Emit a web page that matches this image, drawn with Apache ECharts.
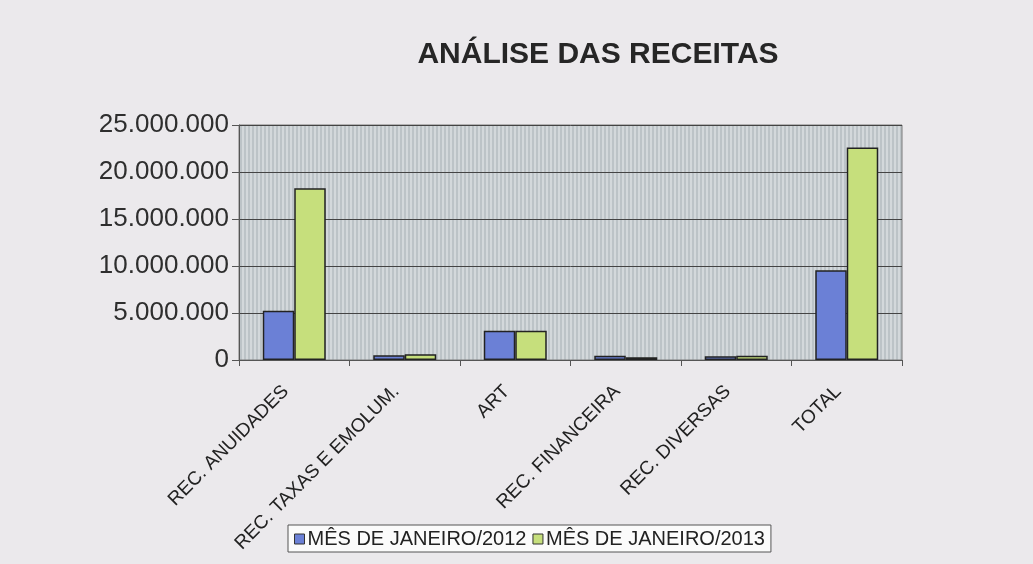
<!DOCTYPE html>
<html>
<head>
<meta charset="utf-8">
<script src="https://cdn.jsdelivr.net/npm/echarts@6/dist/echarts.min.js"></script>
<style>
  html, body { margin: 0; padding: 0; background: #ebe9ec; }
  #main { width: 1033px; height: 564px; }
</style>
</head>
<body>
<div id="main"></div>
<script>
var categorias = ['REC. ANUIDADES', 'REC. TAXAS E EMOLUM.', 'ART', 'REC. FINANCEIRA', 'REC. DIVERSAS', 'TOTAL'];
var jan2012 = [5250000, 500000, 3100000, 450000, 400000, 9550000];
var jan2013 = [18270000, 600000, 3100000, 300000, 450000, 22600000];
var nomes = ['MÊS DE JANEIRO/2012', 'MÊS DE JANEIRO/2013'];

// listras verticais do fundo do grafico
var listra = document.createElement('canvas');
listra.width = 4; listra.height = 4;
var ctx = listra.getContext('2d');
ctx.fillStyle = '#d3d8db';
ctx.fillRect(0, 0, 4, 4);
ctx.fillStyle = '#bcc3c7';
ctx.fillRect(0, 0, 2, 4);

function fmt(v) {
    return String(v).replace(/\B(?=(\d{3})+(?!\d))/g, '.');
}

var chart = echarts.init(document.getElementById('main'));
var option = {
    backgroundColor: '#ebe9ec',
    title: {
        text: 'ANÁLISE DAS RECEITAS',
        left: 593, top: 35,
        textAlign: 'center',
        textStyle: { fontFamily: 'Liberation Sans', fontSize: 30, fontWeight: 'bold', color: '#262626' }
    },
    legend: {
        data: nomes,
        left: 288, top: 525,
        backgroundColor: '#fbfbfb',
        borderColor: '#555',
        borderWidth: 1,
        padding: [4, 6, 3, 6],
        itemGap: 6,
        itemWidth: 10, itemHeight: 10,
        icon: 'rect',
        itemStyle: { borderColor: '#333', borderWidth: 1 },
        textStyle: { fontFamily: 'Liberation Sans', fontSize: 20, color: '#222', padding: [0, 0, 0, -2] }
    },
    grid: {
        left: 239, right: 131, top: 125, bottom: 204,
        show: true,
        backgroundColor: { image: listra, repeat: 'repeat' },
        borderColor: '#7a7a7a',
        borderWidth: 1
    },
    xAxis: {
        type: 'category',
        data: categorias,
        axisLine: { lineStyle: { color: '#555' } },
        axisTick: { show: true, length: 6, lineStyle: { color: '#555' } },
        axisLabel: {
            rotate: 45, margin: 20, interval: 0,
            padding: [0, 12, 0, 0],
            fontFamily: 'Liberation Sans', fontSize: 19, color: '#222'
        }
    },
    yAxis: {
        type: 'value',
        min: 0, max: 25000000, interval: 5000000,
        axisLine: { show: true, lineStyle: { color: '#555' } },
        axisTick: { show: true, length: 7, lineStyle: { color: '#555' } },
        splitLine: { lineStyle: { color: '#444', width: 1 } },
        axisLabel: {
            margin: 10,
            fontFamily: 'Liberation Sans', fontSize: 26, color: '#2e2e2e',
            formatter: fmt
        }
    },
    series: [
        {
            name: nomes[0], type: 'bar', data: jan2012,
            barGap: '0%', barCategoryGap: '43%',
            itemStyle: { color: '#6b80d6', borderColor: '#222', borderWidth: 1.5 }
        },
        {
            name: nomes[1], type: 'bar', data: jan2013,
            itemStyle: { color: '#c6df7c', borderColor: '#222', borderWidth: 1.5 }
        }
    ]
};
chart.setOption(option);
</script>
</body>
</html>
